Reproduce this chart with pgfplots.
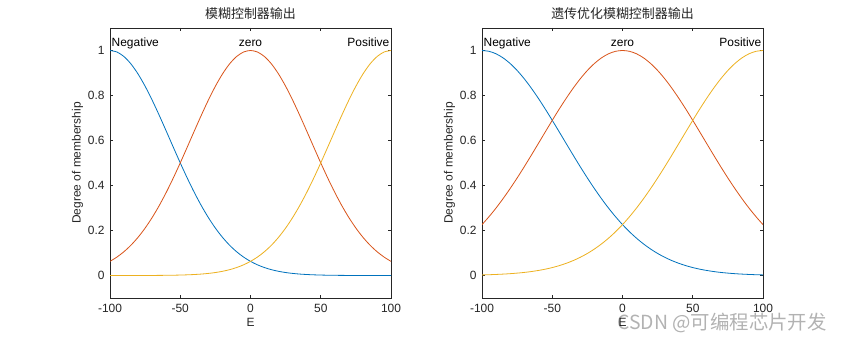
\documentclass[border=0pt]{standalone}
\usepackage{pgfplots}
\pgfplotsset{compat=1.18}
\usepackage{pgfplotstable}
\usepackage{fontspec}
\setmainfont{Liberation Sans}
\newfontfamily\cjk{Noto Sans CJK SC}
\definecolor{mb}{rgb}{0,0.447,0.741}
\definecolor{mo}{rgb}{0.85,0.325,0.098}
\definecolor{my}{rgb}{0.929,0.694,0.125}
\definecolor{ax}{rgb}{0.15,0.15,0.15}
\pgfplotstableread{
x N Z P
-100 1 0.0628 0.00002
-95 0.9931 0.0822 0.00003
-90 0.9727 0.1062 0.00005
-85 0.9396 0.1353 0.00008
-80 0.8952 0.1701 0.00013
-75 0.8411 0.2108 0.00021
-70 0.7795 0.2576 0.00034
-65 0.7124 0.3105 0.00053
-60 0.6422 0.3691 0.00084
-55 0.5709 0.4328 0.0013
-50 0.5005 0.5005 0.0020
-45 0.4328 0.5709 0.0030
-40 0.3691 0.6422 0.0044
-35 0.3105 0.7124 0.0064
-30 0.2576 0.7795 0.0093
-25 0.2108 0.8411 0.0132
-20 0.1701 0.8952 0.0186
-15 0.1353 0.9396 0.0257
-10 0.1062 0.9727 0.0351
-5 0.0822 0.9931 0.0473
0 0.0628 1 0.0628
5 0.0473 0.9931 0.0822
10 0.0351 0.9727 0.1062
15 0.0257 0.9396 0.1353
20 0.0186 0.8952 0.1701
25 0.0132 0.8411 0.2108
30 0.0093 0.7795 0.2576
35 0.0064 0.7124 0.3105
40 0.0044 0.6422 0.3691
45 0.0030 0.5709 0.4328
50 0.0020 0.5005 0.5005
55 0.0013 0.4328 0.5709
60 0.00084 0.3691 0.6422
65 0.00053 0.3105 0.7124
70 0.00034 0.2576 0.7795
75 0.00021 0.2108 0.8411
80 0.00013 0.1701 0.8952
85 0.00008 0.1353 0.9396
90 0.00005 0.1062 0.9727
95 0.00003 0.0822 0.9931
100 0.00002 0.0628 1
}\lefttab
\pgfplotstableread{
x N Z P
-100 1 0.2262 0.0026
-95 0.9963 0.2615 0.0035
-90 0.9853 0.3000 0.0047
-85 0.9671 0.3417 0.0062
-80 0.9423 0.3863 0.0081
-75 0.9113 0.4334 0.0106
-70 0.8748 0.4827 0.0136
-65 0.8335 0.5337 0.0175
-60 0.7883 0.5856 0.0223
-55 0.7401 0.6379 0.0281
-50 0.6896 0.6896 0.0353
-45 0.6379 0.7401 0.0439
-40 0.5856 0.7883 0.0543
-35 0.5337 0.8335 0.0666
-30 0.4827 0.8748 0.0811
-25 0.4334 0.9113 0.0980
-20 0.3863 0.9423 0.1176
-15 0.3417 0.9671 0.1401
-10 0.3000 0.9853 0.1656
-5 0.2615 0.9963 0.1942
0 0.2262 1 0.2262
5 0.1942 0.9963 0.2615
10 0.1656 0.9853 0.3000
15 0.1401 0.9671 0.3417
20 0.1176 0.9423 0.3863
25 0.0980 0.9113 0.4334
30 0.0811 0.8748 0.4827
35 0.0666 0.8335 0.5337
40 0.0543 0.7883 0.5856
45 0.0439 0.7401 0.6379
50 0.0353 0.6896 0.6896
55 0.0281 0.6379 0.7401
60 0.0223 0.5856 0.7883
65 0.0175 0.5337 0.8335
70 0.0136 0.4827 0.8748
75 0.0106 0.4334 0.9113
80 0.0081 0.3863 0.9423
85 0.0062 0.3417 0.9671
90 0.0047 0.3000 0.9853
95 0.0035 0.2615 0.9963
100 0.0026 0.2262 1
}\righttab
\pgfplotsset{
  mfstyle/.style={
    scale only axis, width=281bp, height=270bp, anchor=south west,
    xmin=-100, xmax=100, ymin=-0.1, ymax=1.1,
    xtick={-100,-50,0,50,100}, ytick={0,0.2,0.4,0.6,0.8,1},
    yticklabels={0,0.2,0.4,0.6,0.8,1},
    tick pos=both, tick align=inside, major tick length=3bp,
    axis line style={ax, line width=0.6bp},
    tick style={ax, line width=0.6bp},
    /pgf/number format/assume math mode=true,
    tick label style={font=\fontsize{12}{14}\selectfont, text=ax},
    xticklabel style={yshift=-3bp},
    yticklabel style={xshift=-2bp},
    label style={font=\fontsize{12}{14}\selectfont, text=ax},
    xlabel={E}, ylabel={Degree of membership},
    xlabel style={yshift=2bp},
    ylabel style={yshift=-2bp},
    title style={font=\cjk\fontsize{13}{15}\selectfont, text=ax, yshift=-1bp},
    every axis plot/.append style={line width=0.8bp, smooth},
    clip=true,
  }
}
\begin{document}
\begin{tikzpicture}[x=1bp,y=1bp]
\fill[white] (0,0) rectangle (844,340);
\begin{axis}[mfstyle, at={(110bp,42bp)}, title={模糊控制器输出}]
\addplot[mb] table[x=x,y=N]{\lefttab};
\addplot[mo] table[x=x,y=Z]{\lefttab};
\addplot[my] table[x=x,y=P]{\lefttab};
\node[anchor=base west, inner sep=1.5bp, font=\fontsize{12}{14}\selectfont, text=black] at (axis cs:-100,1.018) {Negative};
\node[anchor=base, inner sep=1.5bp, font=\fontsize{12}{14}\selectfont, text=black] at (axis cs:0,1.018) {zero};
\node[anchor=base east, inner sep=1.5bp, font=\fontsize{12}{14}\selectfont, text=black] at (axis cs:100,1.018) {Positive};
\end{axis}
\begin{axis}[mfstyle, at={(482bp,42bp)}, title={遗传优化模糊控制器输出}]
\addplot[mb] table[x=x,y=N]{\righttab};
\addplot[mo] table[x=x,y=Z]{\righttab};
\addplot[my] table[x=x,y=P]{\righttab};
\node[anchor=base west, inner sep=1.5bp, font=\fontsize{12}{14}\selectfont, text=black] at (axis cs:-100,1.018) {Negative};
\node[anchor=base, inner sep=1.5bp, font=\fontsize{12}{14}\selectfont, text=black] at (axis cs:0,1.018) {zero};
\node[anchor=base east, inner sep=1.5bp, font=\fontsize{12}{14}\selectfont, text=black] at (axis cs:100,1.018) {Positive};
\end{axis}
\node[anchor=base west, inner sep=0pt, font=\cjk\fontsize{19.5}{22}\selectfont, text=black, opacity=0.3] at (617,11) {CSDN @可编程芯片开发};
\end{tikzpicture}
\end{document}
